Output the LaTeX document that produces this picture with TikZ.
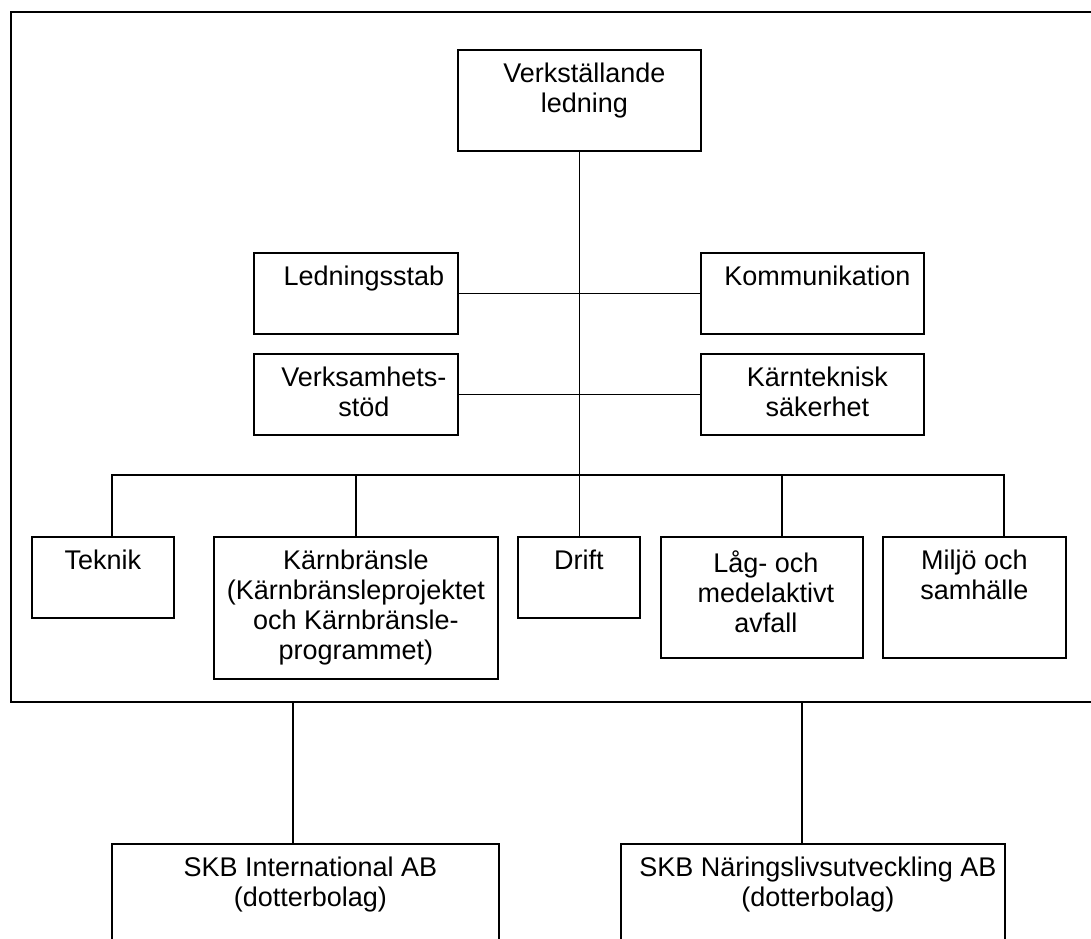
\documentclass[tikz,border=0pt]{standalone}
\usepackage{fontspec}
\setmainfont{Liberation Sans}
\tikzset{
  unit/.style={draw, line width=.9pt, anchor=north west, inner sep=0pt},
  caption/.style={anchor=north, align=center, inner sep=0pt, yshift=-7pt,
    font=\fontsize{13.5}{15}\selectfont},
  link/.style={line width=.8pt},
}
\begin{document}
\begin{tikzpicture}[x=.5pt,y=-.5pt]
  \clip (0,0) rectangle (1091,938);
  % frame round the head office
  \draw[link] (1100,12) -- (11,12) -- (11,702) -- (1100,702);
  % boxes
  \node[unit, minimum width=121.5pt, minimum height=50.5pt,
    label={[caption, xshift=2.5pt]north:Verkställande\\ledning}] (lead) at (457,49) {};
  \node[unit, minimum width=102pt, minimum height=40.5pt,
    label={[caption, xshift=4pt]north:Ledningsstab}] (stab) at (253,252) {};
  \node[unit, minimum width=111.5pt, minimum height=40.5pt,
    label={[caption, xshift=2.5pt]north:Kommunikation}] (komm) at (700,252) {};
  \node[unit, minimum width=102pt, minimum height=40.5pt,
    label={[caption, xshift=4pt]north:Verksamhets-\\stöd}] (stod) at (253,353) {};
  \node[unit, minimum width=111.5pt, minimum height=40.5pt,
    label={[caption, xshift=2.5pt]north:Kärnteknisk\\säkerhet}] (sak) at (700,353) {};
  \node[unit, minimum width=71pt, minimum height=40.5pt,
    label={[caption]north:Teknik}] (teknik) at (31,536) {};
  \node[unit, minimum width=142pt, minimum height=71pt,
    label={[caption]north:Kärnbränsle\\(Kärnbränsleprojektet\\och Kärnbränsle-\\programmet)}] (bransle) at (213,536) {};
  \node[unit, minimum width=61pt, minimum height=40.5pt,
    label={[caption]north:Drift}] (drift) at (517,536) {};
  \node[unit, minimum width=101pt, minimum height=60.5pt,
    label={[caption, xshift=2pt]north:Låg- och\\medelaktivt\\avfall}] (avfall) at (660,536) {};
  \node[unit, minimum width=91.5pt, minimum height=60.5pt,
    label={[caption]north:Miljö och\\samhälle}] (miljo) at (882,536) {};
  \node[unit, minimum width=193.5pt, minimum height=100pt,
    label={[caption, xshift=2.5pt]north:SKB International AB\\(dotterbolag)}] (intl) at (111,843) {};
  \node[unit, minimum width=192pt, minimum height=100pt,
    label={[caption, xshift=2.5pt]north:SKB Näringslivsutveckling AB\\(dotterbolag)}] (naring) at (620,843) {};
  % connectors
  \coordinate (busL) at (112,475);
  \coordinate (busR) at (1004,475);
  \coordinate (dAvfall) at (782,475);
  \coordinate (sub1) at (293,702);
  \coordinate (sub2) at (802,702);
  \draw[link] (lead.south) -- (lead.south |- drift.north);
  \draw[link] (stab.east) -- (komm.west);
  \draw[link] (stod.east) -- (sak.west);
  \draw[link] (busL |- teknik.north) -- (busL) -- (busR) -- (busR |- miljo.north);
  \draw[link] (bransle.north |- busL) -- (bransle.north);
  \draw[link] (dAvfall) -- (dAvfall |- avfall.north);
  \draw[link] (sub1) -- (sub1 |- intl.north);
  \draw[link] (sub2) -- (sub2 |- naring.north);
\end{tikzpicture}
\end{document}
